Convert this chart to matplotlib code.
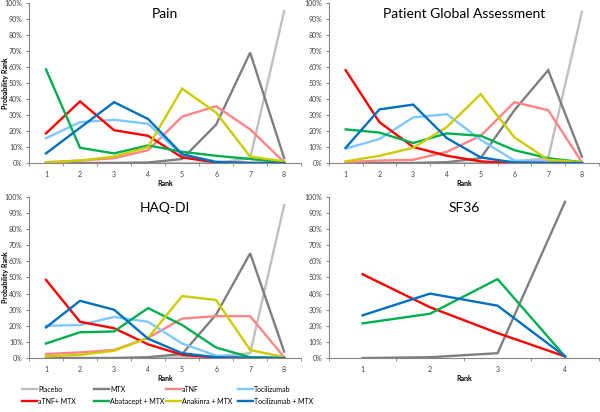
import matplotlib
matplotlib.use("Agg")
import matplotlib.pyplot as plt
from matplotlib.ticker import PercentFormatter, FixedLocator
from matplotlib.lines import Line2D

plt.rcParams['font.family'] = ['Lato', 'DejaVu Sans']

ranks8 = [1, 2, 3, 4, 5, 6, 7, 8]
ranks4 = [1, 2, 3, 4]

series_names = ["Placebo", "MTX", "aTNF", "Tocilizumab",
                "aTNF+ MTX", "Abatacept + MTX", "Anakinra + MTX", "Tocilizumab + MTX"]
series_colors = ["#BFBFBF", "#7F7F7F", "#FF8585", "#7DC8FF",
                 "#FF0000", "#00B050", "#CCCC00", "#0070C0"]

pain = {
    "Placebo":           [0, 0, 0, 0, 0, 0, 3, 95],
    "MTX":               [0, 0, 0, 0.3, 2.5, 24, 69, 3],
    "aTNF":              [0.5, 1.5, 3, 8, 29, 35.5, 21, 0.5],
    "Tocilizumab":       [15.5, 25.5, 27, 24.5, 5, 1, 0, 0],
    "aTNF+ MTX":         [18.5, 38.5, 20.5, 17, 3.5, 0.3, 0, 0],
    "Abatacept + MTX":   [58.5, 9.5, 6, 11, 7, 4.5, 2.5, 0.5],
    "Anakinra + MTX":    [0.3, 1.5, 4, 10, 46.5, 31.5, 4, 1],
    "Tocilizumab + MTX": [6, 22, 38, 27.5, 5.5, 0.5, 0, 0],
}
pga = {
    "Placebo":           [0, 0, 0, 0, 0, 1, 3, 94.5],
    "MTX":               [0, 0, 0, 0.5, 3, 33, 58, 4],
    "aTNF":              [0.5, 1.5, 2, 7, 17, 38, 33, 0.5],
    "Tocilizumab":       [9, 15, 28.5, 30.5, 14.5, 1.5, 1, 0],
    "aTNF+ MTX":         [58, 25.5, 10, 4.5, 1, 0, 0, 0],
    "Abatacept + MTX":   [21, 19, 12.5, 18.5, 17, 8, 3, 0.5],
    "Anakinra + MTX":    [1, 4.5, 9.5, 22.5, 43, 16, 2, 0.5],
    "Tocilizumab + MTX": [9.5, 33.5, 36.5, 15.5, 3.5, 0.3, 0, 0],
}
haq = {
    "Placebo":           [0, 0, 0, 0, 0.5, 1, 3, 95],
    "MTX":               [0, 0, 0, 0.5, 2.5, 27, 65, 4],
    "aTNF":              [2.5, 3.5, 5, 12.5, 24.5, 26, 26, 0.5],
    "Tocilizumab":       [20, 20.5, 25.5, 22.5, 9, 1.5, 0.5, 0],
    "aTNF+ MTX":         [48.5, 22.5, 18.5, 8.5, 2, 0.3, 0, 0],
    "Abatacept + MTX":   [9, 16, 16.5, 31, 20.5, 6.5, 0.5, 0],
    "Anakinra + MTX":    [1, 2, 4.5, 12.5, 38.5, 36, 5, 0.5],
    "Tocilizumab + MTX": [19, 35.5, 30, 12, 3, 0.5, 0, 0],
}
sf36 = {
    "MTX":               [0, 0.5, 3, 97],
    "aTNF+ MTX":         [52, 31.5, 15.5, 1],
    "Abatacept + MTX":   [21.5, 27.5, 49, 1],
    "Tocilizumab + MTX": [26.5, 40, 32.5, 1],
}

panels = [
    ("Pain", pain, ranks8, [0.0483, 0.6044, 0.4537, 0.3883], True),
    ("Patient Global Assessment", pga, ranks8, [0.548, 0.6044, 0.450, 0.3883], False),
    ("HAQ-DI", haq, ranks8, [0.0483, 0.131, 0.4537, 0.391], True),
    ("SF36", sf36, ranks4, [0.548, 0.131, 0.450, 0.391], False),
]

fig = plt.figure(figsize=(6.0, 4.12), dpi=100)
for title, data, ranks, pos, ylab in panels:
    ax = fig.add_axes(pos)
    for name, col in zip(series_names, series_colors):
        if name in data:
            ax.plot(ranks, [v / 100 for v in data[name]], color=col, lw=1.7,
                    solid_joinstyle='miter')
    n = len(ranks)
    ax.set_xlim(0.5, n + 0.5)
    ax.set_ylim(0, 1.0)
    ax.yaxis.set_major_locator(FixedLocator([i / 10 for i in range(11)]))
    ax.yaxis.set_major_formatter(PercentFormatter(1.0, decimals=0))
    ax.set_xticks(ranks)
    ax.set_xticks([i + 0.5 for i in range(n + 1)], minor=True)
    ax.tick_params(axis='x', which='major', length=0, labelsize=5, colors='#404040', pad=6)
    ax.tick_params(axis='x', which='minor', length=2.5, color='#868686', direction='out')
    ax.tick_params(axis='y', length=2.5, color='#868686', labelsize=5, labelcolor='#404040', pad=2)
    for s in ['top', 'right']:
        ax.spines[s].set_visible(False)
    for s in ['left', 'bottom']:
        ax.spines[s].set_color('#868686')
        ax.spines[s].set_linewidth(0.8)
    ax.text(0.5, 0.93, title, transform=ax.transAxes, ha='center', va='center', fontsize=10)
    ax.set_xlabel("Rank", fontsize=5, fontweight='bold', labelpad=1.5)
    if ylab:
        ax.set_ylabel("Probability Rank", fontsize=5, fontweight='bold', va='center')
        ax.yaxis.set_label_coords(-0.088, 0.5)

# legend: four equally spaced columns, two rows each
columns = [["Placebo", "aTNF+ MTX"], ["MTX", "Abatacept + MTX"],
           ["aTNF", "Anakinra + MTX"], ["Tocilizumab", "Tocilizumab + MTX"]]
col_x = [22, 94, 166, 238]
for names, x in zip(columns, col_x):
    hs = [Line2D([], [], color=series_colors[series_names.index(nm)], lw=1.7) for nm in names]
    fig.legend(hs, names, loc='upper left', bbox_to_anchor=(x / 600, 0.064), ncol=1,
               frameon=False, fontsize=5, handlelength=2.2, handletextpad=0.1,
               labelspacing=0.75, borderaxespad=0, borderpad=0)

fig.savefig("out.png", dpi=100)
